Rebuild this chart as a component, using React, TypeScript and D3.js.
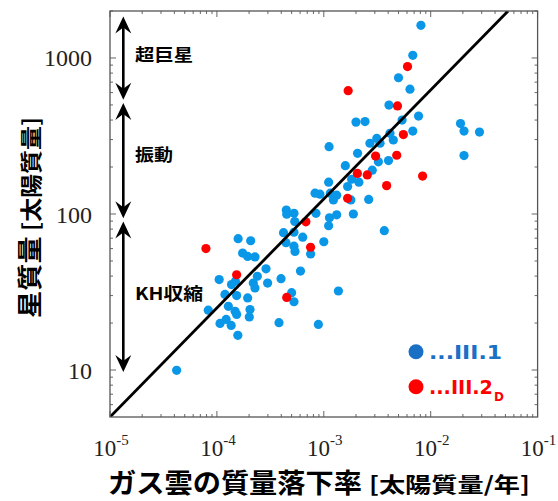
import React from "react";
import { scaleLog, line, range } from "d3";

// mass accretion rate [Msun/yr], stellar mass [Msun]
const seriesIII1 = [
  [8.1e-3, 1620], [6.8e-3, 1040], [5.0e-3, 747], [6.4e-3, 631], [4.07e-3, 499],
  [7.7e-3, 424], [5.4e-3, 400], [2.0e-3, 388], [2.43e-3, 391], [6.8e-3, 340],
  [0.019, 380], [0.0205, 340], [0.0286, 335], [0.0205, 237], [1.12e-3, 270],
  [2.07e-3, 245], [2.7e-3, 284], [3.13e-3, 305], [3.36e-3, 284], [4.16e-3, 329],
  [4.47e-3, 298], [3.24e-3, 216], [4.03e-3, 220], [1.59e-3, 204], [2.84e-3, 191],
  [1.11e-3, 160], [1.82e-3, 167], [2.13e-3, 160], [1.67e-3, 150], [8.28e-4, 136],
  [9.2e-4, 134], [1.15e-3, 136], [1.23e-3, 123], [1.32e-3, 132], [1.79e-3, 123],
  [2.63e-3, 124], [1.89e-3, 100], [1.32e-3, 98.8], [1.13e-3, 94.6], [1.11e-3, 84.1],
  [8.45e-4, 101], [4.46e-4, 106], [4.5e-4, 99.6], [5.26e-4, 101], [5.35e-4, 89.5],
  [3.68e-3, 78.2], [4.2e-4, 75.9], [5.26e-4, 76.4], [4.43e-4, 65.5], [6.35e-4, 71.0],
  [1.0e-3, 66.4], [5.26e-4, 62.2], [5.38e-4, 57.5], [7.53e-4, 55.5], [1.58e-4, 69.5],
  [2.07e-4, 67.4], [1.74e-4, 56.2], [1.94e-4, 53.5], [2.27e-4, 53.1], [1.05e-4, 38.0],
  [1.37e-4, 35.3], [1.49e-4, 37.1], [1.19e-4, 30.5], [1.53e-4, 30.0], [8.3e-5, 24.2],
  [1.28e-4, 25.6], [1.48e-4, 23.8], [1.53e-4, 22.7], [1.94e-4, 29.0], [2.04e-4, 24.4],
  [2.01e-4, 21.9], [1.07e-4, 19.9], [1.22e-4, 21.1], [1.36e-4, 19.3], [1.57e-4, 16.7],
  [2.19e-4, 36.1], [2.39e-4, 39.9], [2.88e-4, 44.5], [2.98e-4, 36.1], [2.27e-4, 33.6],
  [3.98e-4, 38.5], [3.81e-4, 20.1], [5.0e-4, 31.3], [5.26e-4, 27.4], [6.05e-4, 43.1],
  [1.37e-3, 32.1], [8.9e-4, 19.6], [4.2e-5, 9.95],
];

const seriesIII2D = [
  [6.07e-3, 881], [1.69e-3, 617], [4.89e-3, 493], [5.55e-3, 323], [3.05e-3, 235],
  [4.81e-3, 238], [2.06e-3, 182], [2.55e-3, 178], [8.4e-3, 175], [3.87e-3, 152],
  [1.67e-3, 126], [6.8e-4, 89.1], [7.52e-4, 61.2], [7.9e-5, 60.0], [1.53e-4, 40.8],
  [4.5e-4, 29.2],
];

// fitted relation, end points
const fitMdot = [1e-5, 0.053];
const fitMass = [5, 2000];

const xTickExp = [-5, -4, -3, -2, -1];
const yTickVals = [10, 100, 1000];

// regime arrows: label, top mass, bottom mass, label mass
const regimes = [
  { label: "超巨星", top: 1845, bottom: 540, at: 1040, len: 58 },
  { label: "振動", top: 515, bottom: 94, at: 238, len: 38 },
  { label: "KH収縮", top: 89.6, bottom: 9.7, at: 30.8, len: 68 },
];

const left = 110, right = 537.6, top = 11, bottom = 417;
const dotBlue = "#0b97e8";
const dotRed = "#ff0000";

export default function App() {
  const x = scaleLog().domain([1e-5, 1e-1]).range([left, right]);
  const y = scaleLog().domain([5, 2000]).range([bottom, top]);

  const xMinor = [];
  for (let e = -5; e < -1; e++) {
    for (let m = 2; m < 10; m++) xMinor.push(m * Math.pow(10, e));
  }
  const yMinor = [];
  [6, 7, 8, 9].forEach((m) => yMinor.push(m));
  range(2, 10).forEach((m) => yMinor.push(m * 10));
  range(2, 10).forEach((m) => yMinor.push(m * 100));
  yMinor.push(2000);

  const fitPath = line()
    .x((d) => x(d[0]))
    .y((d) => y(d[1]))(fitMdot.map((v, i) => [v, fitMass[i]]));

  const arrowX = 123.3;
  const head = (tipY, dir) =>
    `M${arrowX},${tipY} L${arrowX - 8},${tipY + dir * 17} L${arrowX},${tipY + dir * 11} L${arrowX + 8},${tipY + dir * 17} Z`;

  const tickColor = "#666";

  return (
    <svg
      width={558}
      height={501}
      style={{ position: "absolute", left: 0, top: 0, background: "#fff" }}
    >
      <defs>
        <clipPath id="plot">
          <rect x={left} y={top} width={right - left} height={bottom - top} />
        </clipPath>
      </defs>

      {/* ticks, all four sides, pointing inward */}
      {xTickExp.map((e) => {
        const px = x(Math.pow(10, e));
        return (
          <g key={"xt" + e} stroke={tickColor} strokeWidth={1}>
            <line x1={px} x2={px} y1={bottom} y2={bottom - 6} />
            <line x1={px} x2={px} y1={top} y2={top + 6} />
          </g>
        );
      })}
      {xMinor.map((v, i) => (
        <g key={"xm" + i} stroke={tickColor} strokeWidth={1}>
          <line x1={x(v)} x2={x(v)} y1={bottom} y2={bottom - 3} />
          <line x1={x(v)} x2={x(v)} y1={top} y2={top + 3} />
        </g>
      ))}
      {yTickVals.map((v) => (
        <g key={"yt" + v} stroke={tickColor} strokeWidth={1}>
          <line x1={left} x2={left + 6} y1={y(v)} y2={y(v)} />
          <line x1={right} x2={right - 6} y1={y(v)} y2={y(v)} />
        </g>
      ))}
      {yMinor.map((v, i) => (
        <g key={"ym" + i} stroke={tickColor} strokeWidth={1}>
          <line x1={left} x2={left + 3} y1={y(v)} y2={y(v)} />
          <line x1={right} x2={right - 3} y1={y(v)} y2={y(v)} />
        </g>
      ))}

      {/* data */}
      <g>
        {seriesIII1.map((d, i) => (
          <circle key={"b" + i} cx={x(d[0])} cy={y(d[1])} r={4.6} fill={dotBlue} />
        ))}
        {seriesIII2D.map((d, i) => (
          <circle key={"r" + i} cx={x(d[0])} cy={y(d[1])} r={4.6} fill={dotRed} />
        ))}
      </g>

      <path d={fitPath} stroke="#000" strokeWidth={2.8} fill="none" clipPath="url(#plot)" />

      <rect
        x={left}
        y={top}
        width={right - left}
        height={bottom - top}
        fill="none"
        stroke="#555"
        strokeWidth={1.3}
      />

      {/* regime arrows */}
      {regimes.map((r) => (
        <g key={r.label}>
          <line x1={arrowX} x2={arrowX} y1={y(r.top) + 8} y2={y(r.bottom) - 8} stroke="#000" strokeWidth={2.6} />
          <path d={head(y(r.top), 1)} fill="#000" />
          <path d={head(y(r.bottom), -1)} fill="#000" />
          <text
            x={135}
            y={y(r.at)}
            dy="0.36em"
            fontFamily="'Noto Sans CJK JP', sans-serif"
            fontWeight="bold"
            fontSize={17}
            textLength={r.len}
            lengthAdjust="spacingAndGlyphs"
          >
            {r.label}
          </text>
        </g>
      ))}

      {/* tick labels */}
      {xTickExp.map((e) => (
        <text
          key={"xl" + e}
          x={x(Math.pow(10, e)) + 1}
          y={456}
          textAnchor="middle"
          fontFamily="'Liberation Serif', 'Times New Roman', serif"
          fontSize={23}
          fill="#222"
        >
          <tspan>10</tspan>
          <tspan dy={-11} fontSize={15}>{String(e)}</tspan>
        </text>
      ))}
      {yTickVals.map((v) => (
        <text
          key={"yl" + v}
          x={92}
          y={y(v)}
          dy={8.5}
          textAnchor="end"
          fontFamily="'Liberation Serif', 'Times New Roman', serif"
          fontSize={24}
          fill="#222"
        >
          {v}
        </text>
      ))}

      {/* axis titles */}
      <text
        transform="translate(39,318) rotate(-90)"
        fontFamily="'Noto Sans CJK JP', sans-serif"
        fontWeight="bold"
        textLength={201}
        lengthAdjust="spacingAndGlyphs"
      >
        <tspan fontSize={25}>星質量</tspan>
        <tspan fontSize={22}> [太陽質量]</tspan>
      </text>
      <text
        x={108}
        y={493}
        fontFamily="'Noto Sans CJK JP', sans-serif"
        fontWeight="bold"
        fontSize={27}
        textLength={254}
        lengthAdjust="spacingAndGlyphs"
      >
        ガス雲の質量落下率
      </text>
      <text
        x={369}
        y={492}
        fontFamily="'Noto Sans CJK JP', sans-serif"
        fontWeight="bold"
        fontSize={21}
        textLength={161}
        lengthAdjust="spacingAndGlyphs"
      >
        [太陽質量/年]
      </text>

      {/* legend */}
      <circle cx={416} cy={351.7} r={7.5} fill="#1a70c4" />
      <text
        x={429}
        y={351.7}
        dy="0.36em"
        fontFamily="'DejaVu Sans', 'Liberation Sans', sans-serif"
        fontWeight="bold"
        fontSize={19}
        fill="#1a70c4"
        textLength={73}
        lengthAdjust="spacingAndGlyphs"
      >
        ...III.1
      </text>
      <circle cx={416} cy={386.7} r={7.5} fill={dotRed} />
      <text
        x={429}
        y={386.7}
        dy="0.36em"
        fontFamily="'DejaVu Sans', 'Liberation Sans', sans-serif"
        fontWeight="bold"
        fontSize={19}
        fill={dotRed}
        textLength={64}
        lengthAdjust="spacingAndGlyphs"
      >
        ...III.2
      </text>
      <text
        x={494}
        y={401}
        fontFamily="'DejaVu Sans', 'Liberation Sans', sans-serif"
        fontWeight="bold"
        fontSize={12}
        fill={dotRed}
      >
        D
      </text>
    </svg>
  );
}
